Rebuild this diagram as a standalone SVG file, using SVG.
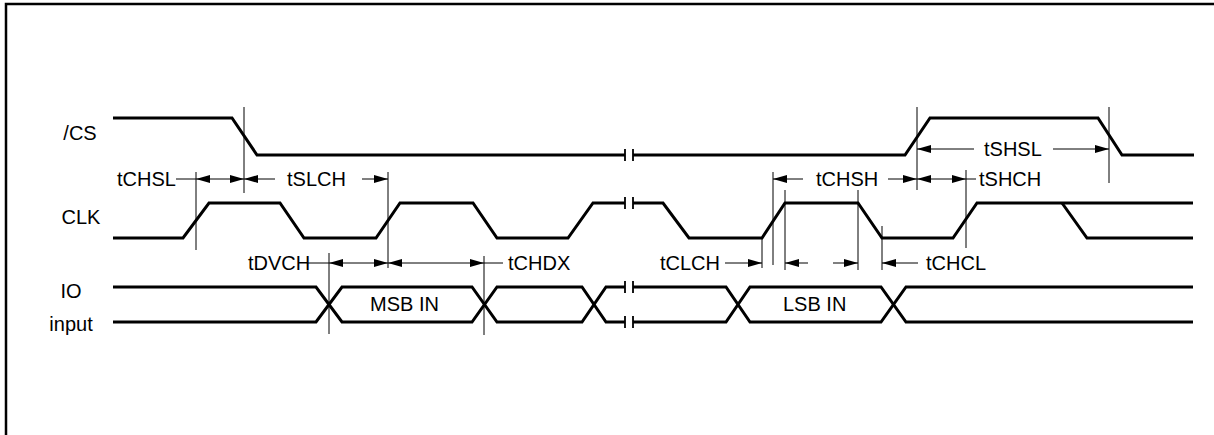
<svg xmlns="http://www.w3.org/2000/svg" width="1214" height="435" viewBox="0 0 1214 435">
<style>
.frame{fill:none;stroke:#000;stroke-width:2.5}
.sig{fill:none;stroke:#000;stroke-width:3;stroke-linejoin:miter}
.tick{fill:none;stroke:#000;stroke-width:1.8}
.ref{fill:none;stroke:#000;stroke-width:1}
.dim{fill:none;stroke:#000;stroke-width:1}
.arr{marker-end:url(#ah)}
.arr2{marker-start:url(#ah);marker-end:url(#ah)}
text{font-family:"Liberation Sans",Arial,Helvetica,sans-serif;font-size:20px;fill:#000}
.lbl{text-anchor:middle}
</style>
<defs>
<marker id="ah" viewBox="0 0 14 8" refX="14" refY="4" markerWidth="14" markerHeight="8" markerUnits="userSpaceOnUse" orient="auto-start-reverse">
<path d="M0,0 L14,4 L0,8 z" fill="#000"/>
</marker>
</defs>
<rect width="1214" height="435" fill="#fff"/>
<path class="frame" d="M6,435 V4 H1214"/>

<g id="labels">
<text class="lbl" x="80" y="140">/CS</text>
<text class="lbl" x="81" y="224">CLK</text>
<text class="lbl" x="71" y="298">IO</text>
<text class="lbl" x="71" y="331">input</text>
</g>

<g id="cs">
<polyline class="sig" points="113,118 232,118 257,155 625,155"/>
<polyline class="sig" points="633,155 905,155 930,118 1098,118 1122,155 1194,155"/>
<path class="tick" d="M625,149 V161 M633,149 V161"/>
</g>

<g id="clk">
<polyline class="sig" points="113,238 183,238 209,203 280,203 304,238 376,238 400,203 473,203 497,238 568,238 593,203 625,203"/>
<polyline class="sig" points="633,203 663,203 689,238 762,238 785,203 858,203 882,238 953,238 977,203 1193,203"/>
<polyline class="sig" points="1062,203 1087,238 1193,238"/>
<path class="tick" d="M625,197 V209 M633,197 V209"/>
</g>

<g id="io">
<polyline class="sig" points="113,287 316,287 342,322 472,322 497,287 582,287 606,322 625,322"/>
<polyline class="sig" points="113,322 316,322 342,287 472,287 497,322 582,322 606,287 625,287"/>
<polyline class="sig" points="633,287 726,287 750,322 881,322 906,287 1193,287"/>
<polyline class="sig" points="633,322 726,322 750,287 881,287 906,322 1193,322"/>
<path class="tick" d="M625,281 V293 M633,281 V293 M625,316 V328 M633,316 V328"/>
<text x="370" y="311">MSB IN</text>
<text x="783" y="311">LSB IN</text>
</g>

<g id="connectors">
<path class="ref" d="M244,107 V193 M196,172 V250 M388,172 V268 M329,253 V334 M484,256 V335 M773,172 V265 M785,190 V270 M762,238 V268 M858,190 V270 M882,226 V270 M917,107 V190 M966,170 V248 M1109,107 V183"/>
<text x="117" y="186">tCHSL</text>
<line class="dim" x1="176" y1="179" x2="196" y2="179"/>
<line class="dim arr2" x1="196" y1="179" x2="244" y2="179"/>
<line class="dim arr" x1="275" y1="179" x2="244" y2="179"/>
<text x="287" y="186">tSLCH</text>
<line class="dim arr" x1="362" y1="179" x2="388" y2="179"/>
<line class="dim arr" x1="803" y1="179" x2="773" y2="179"/>
<text x="816" y="186">tCHSH</text>
<line class="dim arr" x1="888" y1="179" x2="917" y2="179"/>
<line class="dim arr2" x1="917" y1="179" x2="966" y2="179"/>
<line class="dim" x1="966" y1="179" x2="976" y2="179"/>
<text x="979" y="186">tSHCH</text>
<line class="dim arr" x1="974" y1="149" x2="917" y2="149"/>
<text x="984" y="156">tSHSL</text>
<line class="dim arr" x1="1053" y1="149" x2="1109" y2="149"/>
<text x="248" y="270">tDVCH</text>
<line class="dim" x1="307" y1="263" x2="329" y2="263"/>
<line class="dim arr2" x1="329" y1="263" x2="388" y2="263"/>
<line class="dim arr2" x1="388" y1="263" x2="484" y2="263"/>
<line class="dim" x1="484" y1="263" x2="503" y2="263"/>
<text x="508" y="270">tCHDX</text>
<text x="660" y="270">tCLCH</text>
<line class="dim arr" x1="725" y1="263" x2="762" y2="263"/>
<line class="dim arr" x1="808" y1="263" x2="785" y2="263"/>
<line class="dim arr" x1="833" y1="263" x2="858" y2="263"/>
<line class="dim arr" x1="918" y1="263" x2="882" y2="263"/>
<text x="926" y="270">tCHCL</text>
</g>
</svg>
